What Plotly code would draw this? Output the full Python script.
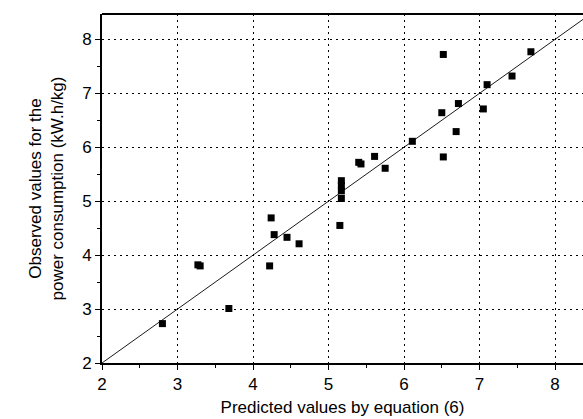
import plotly.graph_objects as go

# Predicted (x) vs observed (y) power consumption values (kW.h/kg)
predicted = [2.80, 3.27, 3.30, 3.68, 4.22, 4.24, 4.28, 4.45, 4.61,
             5.15, 5.17, 5.17, 5.17, 5.17, 5.40, 5.43, 5.61, 5.75,
             6.11, 6.52, 6.50, 6.69, 6.72, 7.05, 7.10, 7.43, 7.68, 6.52]
observed = [2.73, 3.82, 3.80, 3.01, 3.80, 4.69, 4.38, 4.33, 4.21,
            4.55, 5.05, 5.19, 5.29, 5.38, 5.72, 5.69, 5.83, 5.61,
            6.11, 5.82, 6.64, 6.29, 6.81, 6.71, 7.16, 7.32, 7.77, 7.72]

# y = x reference line
line_x = [2.0, 8.5]
line_y = [2.0, 8.5]

x_ticks = [2, 3, 4, 5, 6, 7, 8]
y_ticks = [2, 3, 4, 5, 6, 7, 8]

FONT = "Liberation Sans, Arial, Helvetica, sans-serif"

fig = go.Figure()
fig.add_trace(go.Scatter(x=line_x, y=line_y, mode="lines",
                         line=dict(color="black", width=0.9), hoverinfo="skip"))
fig.add_trace(go.Scatter(x=predicted, y=observed, mode="markers",
                         marker=dict(symbol="square", size=7, color="black",
                                     line=dict(width=0))))

axis_common = dict(
    showline=True, linecolor="black", linewidth=2,
    ticks="outside", ticklen=5, tickwidth=1, tickcolor="black",
    showgrid=True, gridcolor="black", gridwidth=1, griddash="2px,4px",
    zeroline=False,
    tickfont=dict(family=FONT, size=17, color="black"),
    minor=dict(dtick=0.5, ticks="outside", ticklen=3, tickcolor="black",
               showgrid=False),
)

fig.update_layout(
    width=583, height=419,
    margin=dict(l=102, r=0, t=14, b=56),
    paper_bgcolor="white", plot_bgcolor="white",
    showlegend=False,
    font=dict(family=FONT, size=17, color="black"),
    xaxis=dict(range=[2, 8.37], tickvals=x_ticks,
               title=dict(text="Predicted values by equation (6)",
                          font=dict(family=FONT, size=17), standoff=8),
               **axis_common),
    yaxis=dict(range=[2, 8.47], tickvals=y_ticks,
               title=dict(text="Observed values for the<br>power consumption (kW.h/kg)",
                          font=dict(family=FONT, size=17), standoff=14),
               **axis_common),
    shapes=[dict(type="line", xref="paper", yref="paper", x0=0, x1=1, y0=1, y1=1,
                 line=dict(color="black", width=2))],
)

fig.write_html("out.html")
